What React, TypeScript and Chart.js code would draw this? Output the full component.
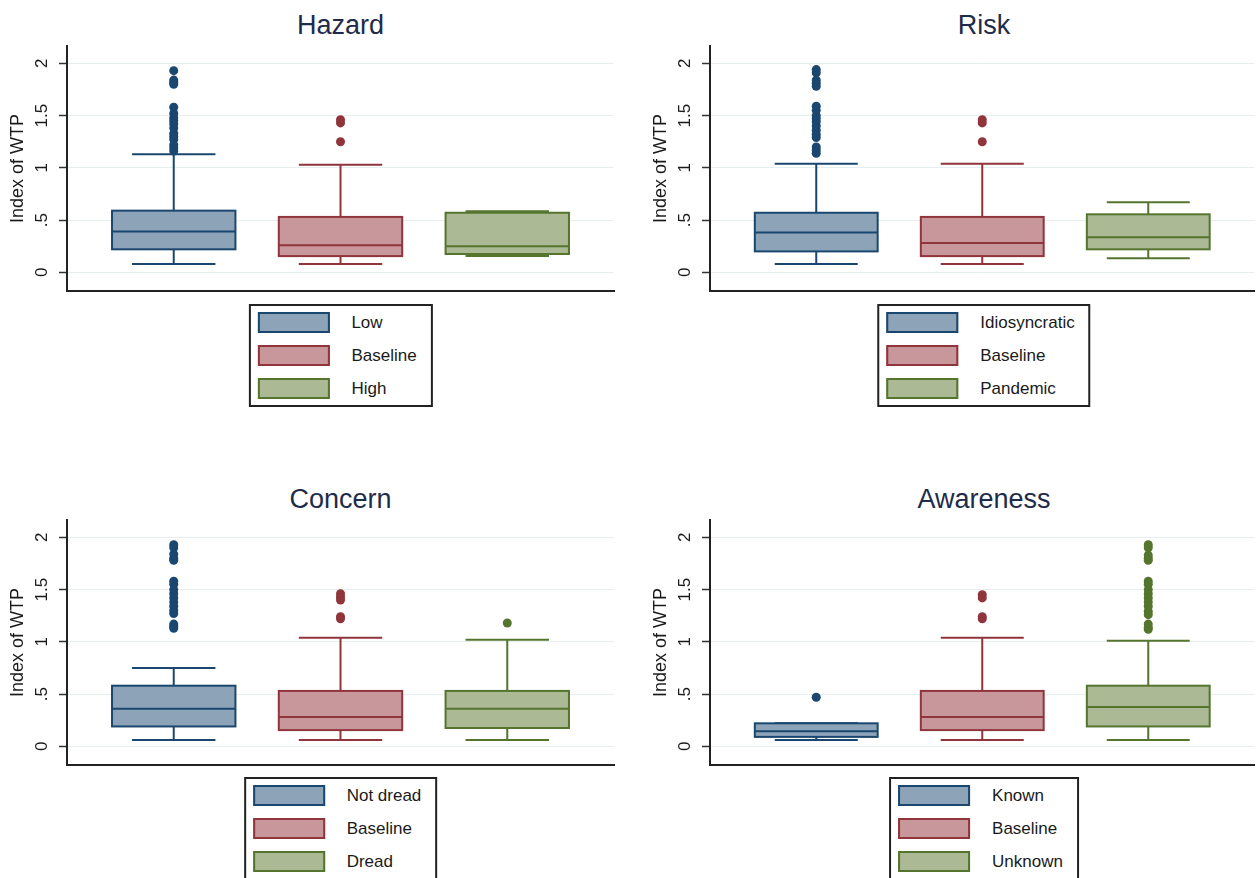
import React, { useEffect, useRef } from "react";
import { Chart, registerables } from "chart.js";

Chart.register(...registerables);
Chart.defaults.font.family = "'Liberation Sans', Arial, sans-serif";

// ---------------- DATA ----------------
const yTickValues = [0, 0.5, 1, 1.5, 2];
const yTickLabels = ["0", ".5", "1", "1.5", "2"];
const yAxisTitle = "Index of WTP";

// Hazard
const hazardTitle = "Hazard";
const hazardGroups = ["Low", "Baseline", "High"];
const hazardLow = [0.08, 0.08, 0.155];
const hazardQ1 = [0.22, 0.155, 0.175];
const hazardMedian = [0.39, 0.26, 0.25];
const hazardQ3 = [0.59, 0.53, 0.57];
const hazardHigh = [1.13, 1.03, 0.585];
const hazardOutliers = [
  [1.93, 1.84, 1.82, 1.8, 1.58, 1.52, 1.48, 1.45, 1.42, 1.38, 1.33, 1.3, 1.27, 1.22, 1.19, 1.16],
  [1.46, 1.43, 1.25],
  [],
];

// Risk
const riskTitle = "Risk";
const riskGroups = ["Idiosyncratic", "Baseline", "Pandemic"];
const riskLow = [0.08, 0.08, 0.135];
const riskQ1 = [0.2, 0.155, 0.22];
const riskMedian = [0.38, 0.28, 0.335];
const riskQ3 = [0.57, 0.53, 0.555];
const riskHigh = [1.04, 1.04, 0.67];
const riskOutliers = [
  [1.94, 1.91, 1.84, 1.81, 1.78, 1.59, 1.55, 1.5, 1.47, 1.44, 1.4, 1.36, 1.32, 1.29, 1.2, 1.17, 1.14],
  [1.46, 1.43, 1.25],
  [],
];

// Concern
const concernTitle = "Concern";
const concernGroups = ["Not dread", "Baseline", "Dread"];
const concernLow = [0.06, 0.06, 0.06];
const concernQ1 = [0.19, 0.155, 0.175];
const concernMedian = [0.36, 0.28, 0.36];
const concernQ3 = [0.58, 0.53, 0.53];
const concernHigh = [0.75, 1.04, 1.02];
const concernOutliers = [
  [1.93, 1.9, 1.84, 1.8, 1.78, 1.58, 1.55, 1.5, 1.46, 1.42, 1.38, 1.34, 1.3, 1.27, 1.17, 1.15, 1.13],
  [1.46, 1.43, 1.4, 1.24, 1.22],
  [1.18],
];

// Awareness
const awarenessTitle = "Awareness";
const awarenessGroups = ["Known", "Baseline", "Unknown"];
const awarenessLow = [0.06, 0.06, 0.06];
const awarenessQ1 = [0.09, 0.155, 0.19];
const awarenessMedian = [0.145, 0.28, 0.375];
const awarenessQ3 = [0.22, 0.53, 0.58];
const awarenessHigh = [0.22, 1.04, 1.01];
const awarenessOutliers = [
  [0.47],
  [1.45, 1.42, 1.24, 1.22],
  [1.93, 1.9, 1.83, 1.8, 1.78, 1.58, 1.55, 1.5, 1.46, 1.42, 1.38, 1.34, 1.29, 1.26, 1.17, 1.14, 1.12],
];

// ---------------- STYLE ----------------
const COLORS = [
  { line: "#1a476f", fill: "#8da3b8" },
  { line: "#90353b", fill: "#c8979b" },
  { line: "#55752f", fill: "#abb994" },
];
const BOX_HALF = 0.37;
const CAP_HALF = 0.25;

type Panel = {
  title: string;
  groups: string[];
  low: number[];
  q1: number[];
  median: number[];
  q3: number[];
  high: number[];
  outliers: number[][];
  left: number;
  top: number;
  width: number;
  padRight: number;
  legendTop: number;
};

const panels: Panel[] = [
  { title: hazardTitle, groups: hazardGroups, low: hazardLow, q1: hazardQ1, median: hazardMedian, q3: hazardQ3, high: hazardHigh, outliers: hazardOutliers, left: 0, top: 0, width: 620, padRight: 6, legendTop: 304 },
  { title: riskTitle, groups: riskGroups, low: riskLow, q1: riskQ1, median: riskMedian, q3: riskQ3, high: riskHigh, outliers: riskOutliers, left: 643, top: 0, width: 616, padRight: 1, legendTop: 304 },
  { title: concernTitle, groups: concernGroups, low: concernLow, q1: concernQ1, median: concernMedian, q3: concernQ3, high: concernHigh, outliers: concernOutliers, left: 0, top: 474, width: 620, padRight: 6, legendTop: 777 },
  { title: awarenessTitle, groups: awarenessGroups, low: awarenessLow, q1: awarenessQ1, median: awarenessMedian, q3: awarenessQ3, high: awarenessHigh, outliers: awarenessOutliers, left: 643, top: 474, width: 616, padRight: 1, legendTop: 777 },
];

const Y_AXIS_W = 67;
const CANVAS_TOP = 40;
const CANVAS_H = 256;

function makeBoxPlugin(p: Panel) {
  return {
    id: "boxplot",
    beforeDatasetsDraw(chart: any) {
      const xs = chart.scales.x;
      const ys = chart.scales.y;
      const ctx = chart.ctx as CanvasRenderingContext2D;
      ctx.save();
      p.groups.forEach((_g, i) => {
        const c = COLORS[i];
        const pos = i + 1;
        const cx = xs.getPixelForValue(pos);
        const bl = xs.getPixelForValue(pos - BOX_HALF);
        const br = xs.getPixelForValue(pos + BOX_HALF);
        const cl = xs.getPixelForValue(pos - CAP_HALF);
        const cr = xs.getPixelForValue(pos + CAP_HALF);
        const yLo = ys.getPixelForValue(p.low[i]);
        const yQ1 = ys.getPixelForValue(p.q1[i]);
        const yMed = ys.getPixelForValue(p.median[i]);
        const yQ3 = ys.getPixelForValue(p.q3[i]);
        const yHi = ys.getPixelForValue(p.high[i]);
        ctx.lineWidth = 2;
        ctx.strokeStyle = c.line;
        ctx.beginPath();
        ctx.moveTo(cx, yQ3);
        ctx.lineTo(cx, yHi);
        ctx.moveTo(cl, yHi);
        ctx.lineTo(cr, yHi);
        ctx.moveTo(cx, yQ1);
        ctx.lineTo(cx, yLo);
        ctx.moveTo(cl, yLo);
        ctx.lineTo(cr, yLo);
        ctx.stroke();
        ctx.fillStyle = c.fill;
        ctx.fillRect(bl, yQ3, br - bl, yQ1 - yQ3);
        ctx.strokeRect(bl, yQ3, br - bl, yQ1 - yQ3);
        ctx.beginPath();
        ctx.moveTo(bl, yMed);
        ctx.lineTo(br, yMed);
        ctx.stroke();
      });
      ctx.restore();
    },
  };
}

function PanelChart({ p }: { p: Panel }) {
  const ref = useRef<HTMLCanvasElement | null>(null);
  useEffect(() => {
    if (!ref.current) return;
    const datasets = p.groups.map((g, i) => ({
      label: g,
      data: p.outliers[i].map((v) => ({ x: i + 1, y: v })),
      backgroundColor: COLORS[i].line,
      borderColor: COLORS[i].line,
      borderWidth: 0,
      pointRadius: 4.5,
      pointStyle: "circle" as const,
    }));
    const chart = new Chart(ref.current, {
      type: "scatter",
      data: { datasets },
      plugins: [makeBoxPlugin(p)],
      options: {
        responsive: false,
        maintainAspectRatio: false,
        animation: false,
        events: [],
        layout: { padding: { left: 0, right: p.padRight, top: 6, bottom: 5 } },
        plugins: {
          legend: { display: false },
          tooltip: { enabled: false },
          title: { display: false },
        },
        scales: {
          x: {
            type: "linear",
            min: 0.36,
            max: 3.64,
            grid: { display: false, drawTicks: false },
            ticks: { display: false },
            border: { display: true, color: "#222", width: 2 },
            afterFit: (s: any) => {
              s.height = 0;
              s.paddingLeft = 0;
              s.paddingRight = 0;
            },
          },
          y: {
            type: "linear",
            min: -0.179,
            max: 2.166,
            afterBuildTicks: (s: any) => {
              s.ticks = yTickValues.map((v) => ({ value: v }));
            },
            afterFit: (s: any) => {
              s.width = Y_AXIS_W;
              s.paddingTop = 0;
              s.paddingBottom = 0;
            },
            ticks: {
              callback: (v: any) => {
                const k = yTickValues.indexOf(Number(v));
                return k >= 0 ? yTickLabels[k] : "";
              },
              minRotation: 90,
              maxRotation: 90,
              crossAlign: "center",
              padding: 5,
              color: "#1a1a1a",
              font: { size: 17 },
            },
            grid: {
              color: "#e6eef0",
              lineWidth: 1,
              drawTicks: true,
              tickLength: 8,
              tickColor: "#333",
              tickWidth: 1.5,
            },
            border: { display: true, color: "#222", width: 2 },
            title: {
              display: true,
              text: yAxisTitle,
              color: "#1a1a1a",
              font: { size: 18 },
              padding: { top: 7, bottom: 0 },
            },
          },
        },
      } as any,
    });
    return () => chart.destroy();
  }, [p]);

  const plotLeft = p.left + Y_AXIS_W;
  const plotRight = p.left + p.width - p.padRight;
  const centerX = (plotLeft + plotRight) / 2;

  return (
    <>
      <div
        style={{
          position: "absolute",
          left: centerX,
          top: p.top + 25,
          transform: "translate(-50%, -50%)",
          whiteSpace: "nowrap",
          fontFamily: "'Liberation Sans', Arial, sans-serif",
          fontSize: 27,
          lineHeight: 1,
          color: "#1e2b4a",
        }}
      >
        {p.title}
      </div>
      <canvas
        ref={ref}
        width={p.width}
        height={CANVAS_H}
        style={{ position: "absolute", left: p.left, top: p.top + CANVAS_TOP, width: p.width, height: CANVAS_H }}
      />
      <div
        style={{
          position: "absolute",
          left: centerX,
          top: p.legendTop,
          transform: "translateX(-50%)",
          border: "2px solid #222",
          padding: "0 14px 0 7px",
          background: "#fff",
          fontFamily: "'Liberation Sans', Arial, sans-serif",
          fontSize: 17,
          color: "#1a1a1a",
          whiteSpace: "nowrap",
        }}
      >
        {p.groups.map((g, i) => (
          <div key={g} style={{ display: "flex", alignItems: "center", height: 33 }}>
            <div
              style={{
                width: 72,
                height: 21,
                boxSizing: "border-box",
                border: `2px solid ${COLORS[i].line}`,
                background: COLORS[i].fill,
                marginRight: 22,
              }}
            />
            <span>{g}</span>
          </div>
        ))}
      </div>
    </>
  );
}

export default function App() {
  return (
    <div
      style={{
        position: "absolute",
        left: 0,
        top: 0,
        width: 1259,
        height: 878,
        overflow: "hidden",
        background: "#fff",
      }}
    >
      {panels.map((p) => (
        <PanelChart key={p.title} p={p} />
      ))}
    </div>
  );
}
